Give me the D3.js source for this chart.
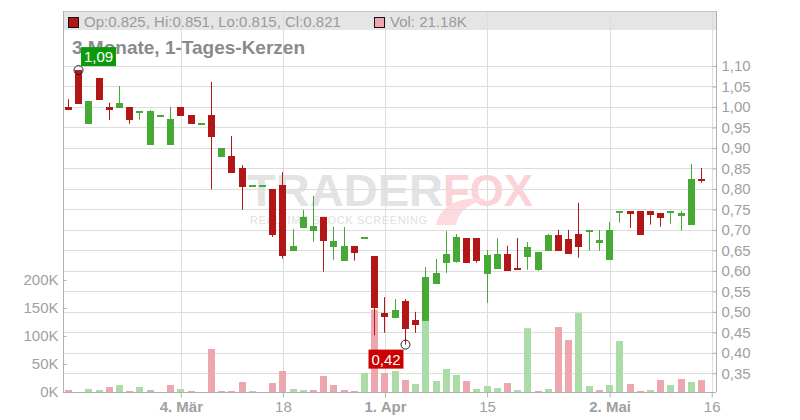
<!DOCTYPE html>
<html><head><meta charset="utf-8">
<script src="https://cdn.jsdelivr.net/npm/d3@7"></script>
<style>body{margin:0;background:#fff}svg{display:block;font-family:"Liberation Sans",Arial,sans-serif}</style>
</head><body><svg id="c" width="800" height="420"></svg>
<script>
// ---------- data ----------
const dates = ["2024-02-16","2024-02-19","2024-02-20","2024-02-21","2024-02-22","2024-02-23","2024-02-26","2024-02-27","2024-02-28","2024-02-29",
"2024-03-01","2024-03-04","2024-03-05","2024-03-06","2024-03-07","2024-03-08","2024-03-11","2024-03-12","2024-03-13","2024-03-14",
"2024-03-15","2024-03-18","2024-03-19","2024-03-20","2024-03-21","2024-03-22","2024-03-25","2024-03-26","2024-03-27","2024-03-28",
"2024-03-29","2024-04-01","2024-04-02","2024-04-03","2024-04-04","2024-04-05","2024-04-08","2024-04-09","2024-04-10","2024-04-11",
"2024-04-12","2024-04-15","2024-04-16","2024-04-17","2024-04-18","2024-04-19","2024-04-22","2024-04-23","2024-04-24","2024-04-25",
"2024-04-26","2024-04-29","2024-04-30","2024-05-02","2024-05-03","2024-05-06","2024-05-07","2024-05-08","2024-05-09","2024-05-10",
"2024-05-13","2024-05-14","2024-05-15"];
const open  = [1.000,1.090,0.959,1.071,1.000,0.998,1.000,0.990,0.908,0.980,0.908,1.000,0.980,0.961,0.980,0.879,0.880,0.851,0.809,0.809,
0.800,0.810,0.649,0.705,0.698,0.731,0.659,0.625,0.661,0.682,0.636,0.497,0.486,0.526,0.480,0.478,0.569,0.620,0.622,0.680,
0.680,0.593,0.605,0.641,0.606,0.635,0.603,0.649,0.688,0.678,0.690,0.700,0.669,0.627,0.741,0.746,0.746,0.746,0.741,0.745,
0.735,0.713,0.825];
const high  = [1.019,1.090,1.015,1.071,1.010,1.051,1.000,0.990,0.992,0.980,1.000,1.000,0.980,0.961,1.061,0.900,0.929,0.858,0.809,0.809,
0.800,0.841,0.702,0.749,0.783,0.731,0.707,0.707,0.661,0.682,0.636,0.536,0.531,0.531,0.500,0.609,0.629,0.697,0.690,0.680,
0.680,0.651,0.680,0.661,0.680,0.670,0.646,0.690,0.700,0.700,0.766,0.700,0.700,0.719,0.746,0.746,0.746,0.746,0.741,0.745,
0.746,0.861,0.851];
const low   = [0.993,1.008,0.959,1.018,0.968,0.998,0.959,0.969,0.908,0.980,0.908,0.979,0.959,0.961,0.799,0.879,0.840,0.749,0.809,0.809,
0.683,0.630,0.649,0.705,0.671,0.598,0.627,0.625,0.625,0.682,0.443,0.449,0.486,0.420,0.449,0.478,0.569,0.595,0.620,0.620,
0.620,0.522,0.605,0.600,0.604,0.603,0.600,0.649,0.649,0.642,0.632,0.649,0.649,0.627,0.718,0.705,0.688,0.713,0.708,0.715,
0.698,0.713,0.815];
const close = [0.993,1.008,1.015,1.018,0.993,1.010,0.969,0.990,0.990,0.980,0.970,0.979,0.959,0.961,0.927,0.900,0.840,0.805,0.809,0.809,
0.688,0.637,0.661,0.731,0.709,0.674,0.673,0.661,0.644,0.682,0.510,0.488,0.504,0.459,0.469,0.585,0.595,0.641,0.683,0.620,
0.625,0.639,0.641,0.600,0.604,0.658,0.646,0.688,0.649,0.642,0.659,0.700,0.675,0.700,0.746,0.740,0.688,0.737,0.730,0.745,
0.741,0.824,0.821];
const volume = [3600,0,5400,3600,8900,12500,1800,8900,3600,0,12500,5400,1800,0,76800,1800,1800,17900,1800,0,
16000,37500,5400,3600,3600,28600,12500,3600,1800,34000,147000,34000,37500,21400,14300,127000,19600,41000,30400,19600,
5400,10700,7100,16000,3600,114000,1800,5400,116000,93000,141000,10700,3600,12500,91000,14300,1800,3600,21400,12500,
23200,17900,21180];
const priceTicks = [0.35,0.40,0.45,0.50,0.55,0.60,0.65,0.70,0.75,0.80,0.85,0.90,0.95,1.00,1.05,1.10];
const volumeTicks = [0,50000,100000,150000,200000];
const dateTicks = ["2024-03-04","2024-03-18","2024-04-01","2024-04-15","2024-05-02","2024-05-16"];
const dateTickLabels = ["4. Mär","18","1. Apr","15","2. Mai","16"];
const dateTickBold = [true,false,true,false,true,false];
const titleText = "3 Monate, 1-Tages-Kerzen";

// ---------- layout ----------
const L = 64, R = 716, T = 11, B = 392;
const UP = "#47a935", DOWN = "#b31616";
const VUP = "#abdca7", VDOWN = "#eea6ae", VFLAT = "#bdbdbd";
const svg = d3.select("#c");
const de = d3.formatLocale({decimal:",", thousands:".", grouping:[3], currency:["","€"]});
const f2 = de.format(".2f");

const x = d3.scaleLinear().domain([-0.44, 63.42]).range([L, R]);
const y = d3.scaleLinear().domain([0.35, 1.10]).range([373.3, 66]);
const yv = d3.scaleLinear().domain([0, 200000]).range([B, 280]);

const idx = d3.range(open.length);
const tickIdx = dateTicks.map(d => { const k = dates.indexOf(d); return k < 0 ? dates.length : k; });

// legend background
svg.append("rect").attr("x", L).attr("y", T).attr("width", R - L).attr("height", 19).attr("fill", "#e5e5e5");

// watermark
const wm = svg.append("g");
wm.append("text").attr("x", 247).attr("y", 206).attr("font-size", 44).attr("font-weight", "bold")
  .attr("textLength", 196).attr("lengthAdjust", "spacingAndGlyphs").attr("fill", "#e3e3e3").text("TRADER");
wm.append("text").attr("x", 443).attr("y", 206).attr("font-size", 44).attr("font-weight", "bold")
  .attr("textLength", 90).attr("lengthAdjust", "spacingAndGlyphs").attr("fill", "#fbd3d7").text("FOX");
wm.append("path").attr("d", "M436,225 C440,206 458,196 486,199 C468,204 458,212 456,225 Z").attr("fill", "#fcdadd");
wm.append("text").attr("x", 250).attr("y", 224).attr("font-size", 11)
  .attr("textLength", 177).attr("lengthAdjust", "spacing").attr("fill", "#e0e0e0").text("REALTIME STOCK SCREENING");

// grid
const grid = svg.append("g").attr("stroke", "#dddddd").attr("stroke-width", 1);
grid.selectAll("line.h").data(priceTicks).join("line").attr("class", "h")
  .attr("x1", L).attr("x2", R).attr("y1", d => Math.round(y(d)) + 0.5).attr("y2", d => Math.round(y(d)) + 0.5);
grid.selectAll("line.v").data(tickIdx).join("line").attr("class", "v")
  .attr("y1", T).attr("y2", B).attr("x1", d => Math.round(x(d)) + 0.5).attr("x2", d => Math.round(x(d)) + 0.5);

// volume bars
const bx = i => Math.round(x(i) - 3.5);
svg.append("g").selectAll("rect").data(idx).join("rect")
  .attr("x", i => bx(i)).attr("width", 7)
  .attr("y", i => yv(volume[i])).attr("height", i => B - yv(volume[i]))
  .attr("fill", i => i === 0 ? VDOWN : close[i] > close[i-1] ? VUP : close[i] < close[i-1] ? VDOWN : VFLAT);

// candles
const cg = svg.append("g");
const col = i => close[i] >= open[i] ? UP : DOWN;
cg.selectAll("line").data(idx).join("line")
  .attr("x1", i => bx(i) + 3.5).attr("x2", i => bx(i) + 3.5)
  .attr("y1", i => y(high[i])).attr("y2", i => y(low[i]))
  .attr("stroke", col).attr("stroke-width", 1);
cg.selectAll("rect").data(idx).join("rect")
  .attr("x", i => bx(i)).attr("width", 7)
  .attr("y", i => Math.round(y(Math.max(open[i], close[i]))))
  .attr("height", i => Math.max(2, Math.round(y(Math.min(open[i], close[i]))) - Math.round(y(Math.max(open[i], close[i])))))
  .attr("fill", col);

// frame
const fr = svg.append("g").attr("stroke", "#b0b0b0").attr("stroke-width", 1);
fr.append("line").attr("x1", L).attr("x2", R).attr("y1", T + 0.5).attr("y2", T + 0.5).attr("stroke", "#c4c4c4");
fr.append("line").attr("x1", R + 0.5).attr("x2", R + 0.5).attr("y1", T).attr("y2", B);
fr.append("line").attr("x1", L - 0.5).attr("x2", L - 0.5).attr("y1", T).attr("y2", B + 1);
fr.append("line").attr("x1", L).attr("x2", R).attr("y1", B + 0.5).attr("y2", B + 0.5);

// axes
function styleAxis(g) {
  g.select(".domain").remove();
  g.selectAll(".tick line").attr("stroke", "#b0b0b0");
  g.selectAll("text").attr("fill", "#a0a0a0").attr("font-size", 15).attr("font-family", '"Liberation Sans",Arial,sans-serif');
}
svg.append("g").attr("transform", `translate(${R + 0.5},0)`)
  .call(d3.axisRight(y).tickValues(priceTicks).tickFormat(f2).tickSize(-4).tickPadding(5))
  .call(styleAxis);
svg.append("g").attr("transform", `translate(${L - 0.5},0)`)
  .call(d3.axisLeft(yv).tickValues(volumeTicks).tickFormat(v => (v / 1000) + "K").tickSize(-3).tickPadding(5))
  .call(styleAxis);
svg.append("g").attr("transform", `translate(0,${B + 0.5})`)
  .call(d3.axisBottom(x).tickValues(tickIdx).tickFormat((d, k) => dateTickLabels[k]).tickSize(5).tickPadding(4))
  .call(styleAxis)
  .call(g => g.selectAll("text").attr("font-weight", (d, k) => dateTickBold[k] ? "bold" : "normal"));

// legend
const last = open.length - 1;
svg.append("rect").attr("x", 68.5).attr("y", 17.5).attr("width", 10).attr("height", 10)
  .attr("fill", col(last)).attr("stroke", "#111");
svg.append("text").attr("x", 84).attr("y", 27).attr("font-size", 15).attr("fill", "#9a9a9a")
  .text(`Op:${open[last].toFixed(3)}, Hi:${high[last].toFixed(3)}, Lo:${low[last].toFixed(3)}, Cl:${close[last].toFixed(3)}`);
svg.append("rect").attr("x", 374.5).attr("y", 17.5).attr("width", 10).attr("height", 10)
  .attr("fill", VDOWN).attr("stroke", "#111");
svg.append("text").attr("x", 390).attr("y", 27).attr("font-size", 15).attr("fill", "#9a9a9a")
  .text(`Vol: ${(volume[last] / 1000).toFixed(2)}K`);

// title
svg.append("text").attr("x", 72).attr("y", 54).attr("font-size", 19).attr("font-weight", "bold")
  .attr("fill", "#8a8a8a").text(titleText);

// high / low annotations
const hiI = d3.maxIndex(high), loI = d3.minIndex(low);
const hx = bx(hiI) + 3.5, hy = y(high[hiI]);
svg.append("rect").attr("x", hx + 2.5).attr("y", hy - 23).attr("width", 35).attr("height", 19).attr("fill", "#0c9a0c");
svg.append("text").attr("x", hx + 20).attr("y", hy - 8.5).attr("text-anchor", "middle").attr("font-size", 15)
  .attr("fill", "#fff").text(f2(high[hiI]));
svg.append("circle").attr("cx", hx).attr("cy", hy).attr("r", 4.5).attr("fill", "none").attr("stroke", "#222");
const lx = bx(loI) + 3.5, ly = y(low[loI]);
svg.append("rect").attr("x", lx - 37).attr("y", ly + 5).attr("width", 35).attr("height", 19).attr("fill", "#cc0000");
svg.append("text").attr("x", lx - 19.5).attr("y", ly + 20).attr("text-anchor", "middle").attr("font-size", 15)
  .attr("fill", "#fff").text(f2(low[loI]));
svg.append("circle").attr("cx", lx).attr("cy", ly).attr("r", 4.5).attr("fill", "none").attr("stroke", "#222");
</script></body></html>
